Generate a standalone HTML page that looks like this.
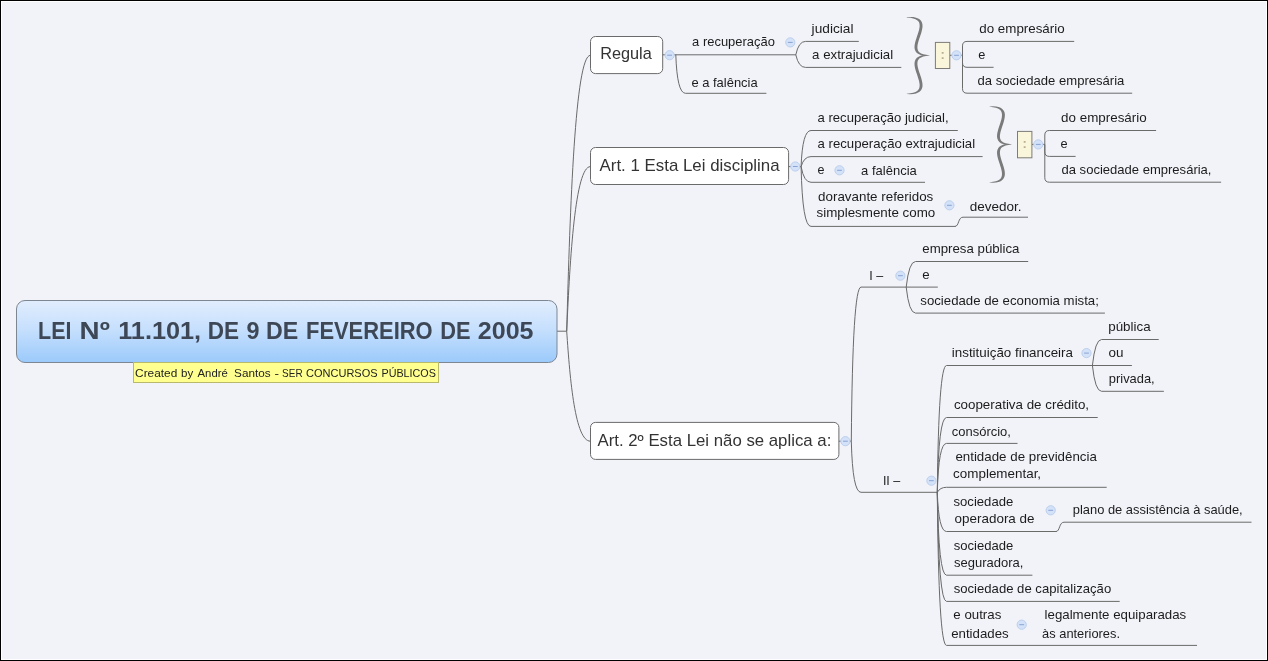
<!DOCTYPE html>
<html lang="pt-BR"><head><meta charset="utf-8"><title>LEI Nº 11.101, DE 9 DE FEVEREIRO DE 2005</title>
<style>
html,body{margin:0;padding:0;background:#f2f3f9;overflow:hidden}
svg{display:block;will-change:transform}
.t{font-family:"Liberation Sans",Arial,sans-serif;white-space:pre}
.l{fill:none;stroke:#6a6a6a;stroke-width:1;stroke-linecap:butt}
</style></head><body>
<svg width="1268" height="661" viewBox="0 0 1268 661">
<defs><linearGradient id="rg" x1="0" y1="0" x2="0" y2="1"><stop offset="0" stop-color="#e1edfd"/><stop offset="0.45" stop-color="#c7e0fd"/><stop offset="1" stop-color="#9bcafb"/></linearGradient></defs>
<rect x="0" y="0" width="1268" height="661" fill="#000"/>
<rect x="1" y="1" width="1266" height="659" fill="#fff"/>
<rect x="2" y="2" width="1264" height="657" fill="#f2f3f9"/>
<path class="l" d="M556.5 331.2H566.7"/>
<path class="l" d="M566.7 331.2C570.02 207.05 575.23 55.3 590.4 55.3"/>
<path class="l" d="M566.7 331.2C570.02 257.13 575.23 166.6 590.4 166.6"/>
<path class="l" d="M566.7 331.2C570.02 380.7 575.23 441.2 590.4 441.2"/>
<rect x="16.5" y="300.5" width="540.5" height="62" rx="8.5" ry="8.5" fill="url(#rg)" stroke="#7d8794" stroke-width="1"/>
<text class="t" y="339" font-size="24" font-weight="bold" fill="#3e4756"><tspan x="38.1" textLength="33.4" lengthAdjust="spacingAndGlyphs">LEI</tspan> <tspan x="79.6" textLength="30.2" lengthAdjust="spacingAndGlyphs">Nº</tspan> <tspan x="118.2" textLength="82.9" lengthAdjust="spacingAndGlyphs">11.101,</tspan> <tspan x="207.7" textLength="31.3" lengthAdjust="spacingAndGlyphs">DE</tspan> <tspan x="246.5" textLength="13" lengthAdjust="spacingAndGlyphs">9</tspan> <tspan x="266.1" textLength="32.2" lengthAdjust="spacingAndGlyphs">DE</tspan> <tspan x="306" textLength="126.6" lengthAdjust="spacingAndGlyphs">FEVEREIRO</tspan> <tspan x="440.3" textLength="30.3" lengthAdjust="spacingAndGlyphs">DE</tspan> <tspan x="477.8" textLength="55.7" lengthAdjust="spacingAndGlyphs">2005</tspan></text>
<rect x="133.5" y="362.5" width="305" height="20" fill="#ffff8f" stroke="#b9b96c" stroke-width="1"/>
<text class="t" y="377" font-size="11.2" fill="#222222"><tspan x="135.1" textLength="42.2" lengthAdjust="spacingAndGlyphs">Created</tspan> <tspan x="181.1" textLength="12.2" lengthAdjust="spacingAndGlyphs">by</tspan> <tspan x="197.5" textLength="30.3" lengthAdjust="spacingAndGlyphs">André</tspan> <tspan x="234.1" textLength="36.5" lengthAdjust="spacingAndGlyphs">Santos</tspan> <tspan x="274.4" textLength="4.5" lengthAdjust="spacingAndGlyphs">-</tspan> <tspan x="282.1" textLength="20.5" lengthAdjust="spacingAndGlyphs">SER</tspan> <tspan x="306" textLength="71.6" lengthAdjust="spacingAndGlyphs">CONCURSOS</tspan> <tspan x="381.5" textLength="54.4" lengthAdjust="spacingAndGlyphs">PÚBLICOS</tspan></text>
<rect x="590.5" y="36.5" width="72.2" height="37.1" rx="5" ry="5" fill="#ffffff" stroke="#6a6a6a" stroke-width="1"/>
<text class="t" x="600.2" y="59" font-size="16.6" fill="#333333" textLength="51.6" lengthAdjust="spacingAndGlyphs">Regula</text>
<path class="l" d="M662.7 54.8H676"/>
<circle cx="669.6" cy="55.2" r="4.6" fill="#d3e2f8" stroke="#bccfec" stroke-width="1"/>
<path d="M667.2 55.2H672" stroke="#8aa3d2" stroke-width="1" fill="none"/>
<path class="l" d="M675.8 54.8H796"/>
<text class="t" x="692.1" y="46" font-size="13.3" fill="#1c1c1c" textLength="82.8" lengthAdjust="spacingAndGlyphs">a recuperação</text>
<path class="l" d="M675.8 54.8Q677.1 93.3 685.5 93.3H766.4"/>
<text class="t" x="691.4" y="87" font-size="13.3" fill="#1c1c1c" textLength="66.3" lengthAdjust="spacingAndGlyphs">e a falência</text>
<circle cx="790.3" cy="42.4" r="4.6" fill="#d3e2f8" stroke="#bccfec" stroke-width="1"/>
<path d="M787.9 42.4H792.7" stroke="#8aa3d2" stroke-width="1" fill="none"/>
<path class="l" d="M795.8 54.8Q798.6 41.4 805.5 41.4H858.8"/>
<text class="t" x="811.6" y="33" font-size="13.3" fill="#1c1c1c" textLength="41.9" lengthAdjust="spacingAndGlyphs">judicial</text>
<path class="l" d="M795.8 54.8Q798.6 67.4 805.5 67.4H901.3"/>
<text class="t" x="812.1" y="59" font-size="13.3" fill="#1c1c1c" textLength="81.1" lengthAdjust="spacingAndGlyphs">a extrajudicial</text>
<path d="M906.8 17.38L910.33 17.79L913.21 18.4L915.47 19.2L917.13 20.16L918.28 21.23L919 22.36L919.4 23.57L919.59 24.91L919.61 26.42L919.41 28.1L919.04 29.91L918.51 31.82L917.89 33.8L917.2 35.83L916.51 37.88L915.84 39.94L915.26 41.98L914.81 44L914.54 45.98L914.52 47.92L914.88 49.78L915.67 51.49L916.9 52.96L918.54 54.12L920.58 54.96L923.05 55.48L926 55.71L929.5 55.58L929.5 55.22L926.08 54.81L923.32 54.2L921.17 53.4L919.6 52.45L918.55 51.4L917.9 50.29L917.55 49.08L917.41 47.73L917.43 46.21L917.66 44.53L918.07 42.71L918.62 40.79L919.26 38.8L919.95 36.77L920.64 34.71L921.29 32.65L921.85 30.6L922.28 28.57L922.5 26.58L922.47 24.64L922.05 22.77L921.18 21.07L919.88 19.61L918.16 18.47L916.04 17.64L913.47 17.12L910.41 16.89L906.8 17.02ZM906.8 94.08L910.41 94.21L913.47 93.98L916.04 93.45L918.16 92.61L919.88 91.46L921.18 90L922.05 88.28L922.47 86.4L922.5 84.44L922.28 82.44L921.85 80.4L921.29 78.34L920.64 76.26L919.95 74.18L919.26 72.13L918.62 70.13L918.07 68.2L917.66 66.36L917.43 64.66L917.41 63.12L917.56 61.76L917.9 60.54L918.55 59.42L919.61 58.37L921.17 57.41L923.32 56.6L926.08 55.99L929.5 55.58L929.5 55.22L926 55.09L923.05 55.32L920.58 55.85L918.53 56.7L916.89 57.87L915.67 59.35L914.88 61.07L914.52 62.94L914.54 64.89L914.81 66.89L915.26 68.92L915.84 70.98L916.51 73.05L917.2 75.12L917.89 77.16L918.51 79.16L919.04 81.09L919.41 82.91L919.61 84.6L919.59 86.13L919.4 87.49L918.99 88.71L918.27 89.85L917.13 90.92L915.46 91.89L913.21 92.7L910.33 93.31L906.8 93.73Z" fill="#7a7a7a"/>
<path class="l" d="M949.7 55.3H962.5"/>
<rect x="935.4" y="42.4" width="14.4" height="26.1" fill="#faf6dc" stroke="#7d7c76" stroke-width="1"/>
<text class="t" x="942.6" y="59.05" font-size="13" font-weight="bold" fill="#b9af8e" text-anchor="middle">:</text>
<circle cx="956.5" cy="55.3" r="4.6" fill="#d3e2f8" stroke="#bccfec" stroke-width="1"/>
<path d="M954.1 55.3H958.9" stroke="#8aa3d2" stroke-width="1" fill="none"/>
<path class="l" d="M962.5 55.3V45.9Q962.5 41.4 967 41.4H1074.2"/>
<text class="t" x="979.3" y="33" font-size="13.3" fill="#1c1c1c" textLength="85.3" lengthAdjust="spacingAndGlyphs">do empresário</text>
<path class="l" d="M962.5 55.3V62.8Q962.5 67.3 967 67.3H993.6"/>
<text class="t" x="978.3" y="59" font-size="13.3" fill="#1c1c1c" textLength="7.1" lengthAdjust="spacingAndGlyphs">e</text>
<path class="l" d="M962.5 55.3V88.7Q962.5 93.2 967 93.2H1132.2"/>
<text class="t" x="977.6" y="85" font-size="13.3" fill="#1c1c1c" textLength="146.8" lengthAdjust="spacingAndGlyphs">da sociedade empresária</text>
<rect x="590.5" y="147.5" width="198.1" height="37" rx="5" ry="5" fill="#ffffff" stroke="#6a6a6a" stroke-width="1"/>
<text class="t" x="599.5" y="171" font-size="16.6" fill="#333333" textLength="180.1" lengthAdjust="spacingAndGlyphs">Art. 1 Esta Lei disciplina</text>
<path class="l" d="M788.6 166.6H801.2"/>
<circle cx="795.3" cy="166.5" r="4.6" fill="#d3e2f8" stroke="#bccfec" stroke-width="1"/>
<path d="M792.9 166.5H797.7" stroke="#8aa3d2" stroke-width="1" fill="none"/>
<path class="l" d="M801.1 166.6Q802.4 130.5 811 130.5H957.8"/>
<text class="t" x="817.5" y="122" font-size="13.3" fill="#1c1c1c" textLength="131.1" lengthAdjust="spacingAndGlyphs">a recuperação judicial,</text>
<path class="l" d="M801.1 166.6Q803.9 156.6 811 156.6H982.6"/>
<text class="t" x="817.5" y="148" font-size="13.3" fill="#1c1c1c" textLength="157.6" lengthAdjust="spacingAndGlyphs">a recuperação extrajudicial</text>
<path class="l" d="M801.1 166.6Q803.9 182.3 811 182.3H925"/>
<text class="t" x="817.5" y="174" font-size="13.3" fill="#1c1c1c" textLength="7" lengthAdjust="spacingAndGlyphs">e</text>
<circle cx="839.5" cy="170.3" r="4.6" fill="#d3e2f8" stroke="#bccfec" stroke-width="1"/>
<path d="M837.1 170.3H841.9" stroke="#8aa3d2" stroke-width="1" fill="none"/>
<text class="t" x="861.1" y="175" font-size="13.3" fill="#1c1c1c" textLength="55.7" lengthAdjust="spacingAndGlyphs">a falência</text>
<path class="l" d="M801.1 166.6Q802.4 226.4 811 226.4H955.5"/>
<text class="t" x="818.1" y="201" font-size="13.3" fill="#1c1c1c" textLength="115.2" lengthAdjust="spacingAndGlyphs">doravante referidos</text>
<text class="t" x="816.5" y="217" font-size="13.3" fill="#1c1c1c" textLength="118.8" lengthAdjust="spacingAndGlyphs">simplesmente como</text>
<circle cx="949.4" cy="205.3" r="4.6" fill="#d3e2f8" stroke="#bccfec" stroke-width="1"/>
<path d="M947 205.3H951.8" stroke="#8aa3d2" stroke-width="1" fill="none"/>
<path class="l" d="M955 226.4C959 226.4 958 217.2 963 217.2H1028"/>
<text class="t" x="969.8" y="211" font-size="13.3" fill="#1c1c1c" textLength="51.8" lengthAdjust="spacingAndGlyphs">devedor.</text>
<path d="M989.6 106.77L993.02 107.19L995.81 107.79L997.98 108.59L999.59 109.54L1000.69 110.58L1001.38 111.7L1001.77 112.9L1001.95 114.23L1001.97 115.73L1001.78 117.39L1001.42 119.18L1000.91 121.07L1000.3 123.03L999.64 125.04L998.96 127.07L998.32 129.1L997.76 131.13L997.32 133.12L997.06 135.08L997.04 137L997.39 138.84L998.16 140.53L999.35 141.99L1000.95 143.14L1002.94 143.97L1005.34 144.49L1008.21 144.71L1011.6 144.58L1011.6 144.22L1008.29 143.81L1005.62 143.21L1003.54 142.42L1002.03 141.48L1001.02 140.44L1000.4 139.34L1000.07 138.15L999.93 136.82L999.95 135.31L1000.17 133.64L1000.57 131.84L1001.1 129.94L1001.72 127.97L1002.39 125.96L1003.06 123.92L1003.69 121.88L1004.24 119.86L1004.64 117.85L1004.86 115.88L1004.83 113.96L1004.42 112.11L1003.57 110.43L1002.31 108.99L1000.63 107.85L998.57 107.03L996.07 106.51L993.1 106.29L989.6 106.42ZM989.6 182.58L993.1 182.71L996.07 182.49L998.57 181.96L1000.64 181.14L1002.31 179.99L1003.57 178.55L1004.42 176.85L1004.83 175L1004.86 173.07L1004.64 171.09L1004.24 169.08L1003.69 167.04L1003.06 164.99L1002.39 162.94L1001.72 160.92L1001.1 158.94L1000.57 157.03L1000.17 155.22L999.95 153.54L999.93 152.02L1000.07 150.68L1000.4 149.48L1001.02 148.37L1002.04 147.33L1003.54 146.39L1005.62 145.59L1008.29 144.99L1011.6 144.58L1011.6 144.22L1008.21 144.09L1005.34 144.31L1002.94 144.84L1000.95 145.68L999.35 146.83L998.16 148.3L997.39 149.99L997.04 151.84L997.06 153.77L997.32 155.74L997.76 157.74L998.32 159.77L998.96 161.82L999.64 163.86L1000.3 165.88L1000.91 167.85L1001.41 169.75L1001.78 171.55L1001.97 173.22L1001.95 174.73L1001.77 176.07L1001.38 177.28L1000.69 178.4L999.59 179.45L997.98 180.41L995.81 181.21L993.02 181.81L989.6 182.22Z" fill="#7a7a7a"/>
<path class="l" d="M1031.9 144.4H1044.8"/>
<rect x="1017.5" y="131.4" width="14.4" height="26.4" fill="#faf6dc" stroke="#7d7c76" stroke-width="1"/>
<text class="t" x="1024.7" y="148.2" font-size="13" font-weight="bold" fill="#b9af8e" text-anchor="middle">:</text>
<circle cx="1038.3" cy="144.4" r="4.6" fill="#d3e2f8" stroke="#bccfec" stroke-width="1"/>
<path d="M1035.9 144.4H1040.7" stroke="#8aa3d2" stroke-width="1" fill="none"/>
<path class="l" d="M1044.8 144.4V135Q1044.8 130.5 1049.3 130.5H1156.1"/>
<text class="t" x="1061.1" y="122" font-size="13.3" fill="#1c1c1c" textLength="85.6" lengthAdjust="spacingAndGlyphs">do empresário</text>
<path class="l" d="M1044.8 144.4V151.9Q1044.8 156.4 1049.3 156.4H1075.6"/>
<text class="t" x="1060.4" y="148" font-size="13.3" fill="#1c1c1c" textLength="7.1" lengthAdjust="spacingAndGlyphs">e</text>
<path class="l" d="M1044.8 144.4V177.7Q1044.8 182.2 1049.3 182.2H1221.1"/>
<text class="t" x="1061.5" y="174" font-size="13.3" fill="#1c1c1c" textLength="150" lengthAdjust="spacingAndGlyphs">da sociedade empresária,</text>
<rect x="590.5" y="422.4" width="248.4" height="37" rx="5" ry="5" fill="#ffffff" stroke="#6a6a6a" stroke-width="1"/>
<text class="t" x="597.5" y="446" font-size="16.6" fill="#333333" textLength="233.8" lengthAdjust="spacingAndGlyphs">Art. 2º Esta Lei não se aplica a:</text>
<path class="l" d="M838.9 441.2H851.4"/>
<circle cx="845.4" cy="441.2" r="4.6" fill="#d3e2f8" stroke="#bccfec" stroke-width="1"/>
<path d="M843 441.2H847.8" stroke="#8aa3d2" stroke-width="1" fill="none"/>
<path class="l" d="M851.3 441.2Q852.6 287.1 861 287.1H937.8"/>
<text class="t" x="869.3" y="280" font-size="13.3" fill="#1c1c1c" textLength="13.9" lengthAdjust="spacingAndGlyphs">I –</text>
<circle cx="900.4" cy="275.7" r="4.6" fill="#d3e2f8" stroke="#bccfec" stroke-width="1"/>
<path d="M898 275.7H902.8" stroke="#8aa3d2" stroke-width="1" fill="none"/>
<path class="l" d="M851.3 441.2Q852.6 492.3 861 492.3H937.3"/>
<text class="t" x="882.9" y="485" font-size="13.3" fill="#1c1c1c" textLength="17.4" lengthAdjust="spacingAndGlyphs">II –</text>
<circle cx="931.4" cy="480.7" r="4.6" fill="#d3e2f8" stroke="#bccfec" stroke-width="1"/>
<path d="M929 480.7H933.8" stroke="#8aa3d2" stroke-width="1" fill="none"/>
<path class="l" d="M906.2 287.1Q909 261.5 915.5 261.5H1028.2"/>
<text class="t" x="922.3" y="253" font-size="13.3" fill="#1c1c1c" textLength="97.2" lengthAdjust="spacingAndGlyphs">empresa pública</text>
<text class="t" x="922.3" y="279" font-size="13.3" fill="#1c1c1c" textLength="7.4" lengthAdjust="spacingAndGlyphs">e</text>
<path class="l" d="M906.2 287.1Q909 313.1 915.5 313.1H1104.9"/>
<text class="t" x="920.3" y="305" font-size="13.3" fill="#1c1c1c" textLength="178.6" lengthAdjust="spacingAndGlyphs">sociedade de economia mista;</text>
<path class="l" d="M937.3 492.3Q938.6 365.5 946.5 365.5H1131.9"/>
<text class="t" x="951.8" y="357" font-size="13.3" fill="#1c1c1c" textLength="121.2" lengthAdjust="spacingAndGlyphs">instituição financeira</text>
<circle cx="1086.5" cy="353.1" r="4.6" fill="#d3e2f8" stroke="#bccfec" stroke-width="1"/>
<path d="M1084.1 353.1H1088.9" stroke="#8aa3d2" stroke-width="1" fill="none"/>
<path class="l" d="M937.3 492.3Q938.6 417.5 946.5 417.5H1097.7"/>
<text class="t" x="953.9" y="409" font-size="13.3" fill="#1c1c1c" textLength="135.2" lengthAdjust="spacingAndGlyphs">cooperativa de crédito,</text>
<path class="l" d="M937.3 492.3Q938.6 443.4 946.5 443.4H1017.5"/>
<text class="t" x="951.8" y="436" font-size="13.3" fill="#1c1c1c" textLength="59.1" lengthAdjust="spacingAndGlyphs">consórcio,</text>
<path class="l" d="M937.3 492.3Q940.1 487.3 946.5 487.3H1106.7"/>
<text class="t" x="955.4" y="461" font-size="13.3" fill="#1c1c1c" textLength="141.5" lengthAdjust="spacingAndGlyphs">entidade de previdência</text>
<text class="t" x="953.1" y="478" font-size="13.3" fill="#1c1c1c" textLength="88" lengthAdjust="spacingAndGlyphs">complementar,</text>
<path class="l" d="M937.3 492.3Q938.6 531.5 946.5 531.5H1056.5"/>
<text class="t" x="953.5" y="506" font-size="13.3" fill="#1c1c1c" textLength="59.8" lengthAdjust="spacingAndGlyphs">sociedade</text>
<text class="t" x="954.6" y="523" font-size="13.3" fill="#1c1c1c" textLength="79.9" lengthAdjust="spacingAndGlyphs">operadora de</text>
<circle cx="1050.7" cy="510.3" r="4.6" fill="#d3e2f8" stroke="#bccfec" stroke-width="1"/>
<path d="M1048.3 510.3H1053.1" stroke="#8aa3d2" stroke-width="1" fill="none"/>
<path class="l" d="M1056 531.5C1060 531.5 1059 522.2 1064 522.2H1251.5"/>
<text class="t" x="1072.8" y="514" font-size="13.3" fill="#1c1c1c" textLength="169.9" lengthAdjust="spacingAndGlyphs">plano de assistência à saúde,</text>
<path class="l" d="M937.3 492.3Q938.6 575.2 946.5 575.2H1032.4"/>
<text class="t" x="953.7" y="550" font-size="13.3" fill="#1c1c1c" textLength="59.6" lengthAdjust="spacingAndGlyphs">sociedade</text>
<text class="t" x="954" y="567" font-size="13.3" fill="#1c1c1c" textLength="69.4" lengthAdjust="spacingAndGlyphs">seguradora,</text>
<path class="l" d="M937.3 492.3Q938.6 601.4 946.5 601.4H1119.7"/>
<text class="t" x="953.7" y="593" font-size="13.3" fill="#1c1c1c" textLength="157.5" lengthAdjust="spacingAndGlyphs">sociedade de capitalização</text>
<path class="l" d="M937.3 492.3Q938.6 645.4 946.5 645.4H1197"/>
<text class="t" x="953.3" y="619" font-size="13.3" fill="#1c1c1c" textLength="48" lengthAdjust="spacingAndGlyphs">e outras</text>
<text class="t" x="951.2" y="638" font-size="13.3" fill="#1c1c1c" textLength="57.5" lengthAdjust="spacingAndGlyphs">entidades</text>
<circle cx="1021.7" cy="624.7" r="4.6" fill="#d3e2f8" stroke="#bccfec" stroke-width="1"/>
<path d="M1019.3 624.7H1024.1" stroke="#8aa3d2" stroke-width="1" fill="none"/>
<text class="t" x="1044.6" y="619" font-size="13.3" fill="#1c1c1c" textLength="141.6" lengthAdjust="spacingAndGlyphs">legalmente equiparadas</text>
<text class="t" x="1042.1" y="638" font-size="13.3" fill="#1c1c1c" textLength="77.9" lengthAdjust="spacingAndGlyphs">às anteriores.</text>
<path class="l" d="M1092.4 365.5Q1095.2 339.5 1101.5 339.5H1158.7"/>
<text class="t" x="1108.2" y="331" font-size="13.3" fill="#1c1c1c" textLength="42.4" lengthAdjust="spacingAndGlyphs">pública</text>
<text class="t" x="1108.5" y="357" font-size="13.3" fill="#1c1c1c" textLength="15" lengthAdjust="spacingAndGlyphs">ou</text>
<path class="l" d="M1092.4 365.5Q1095.2 391.3 1101.5 391.3H1163.9"/>
<text class="t" x="1108.8" y="383" font-size="13.3" fill="#1c1c1c" textLength="45.9" lengthAdjust="spacingAndGlyphs">privada,</text>
</svg></body></html>
